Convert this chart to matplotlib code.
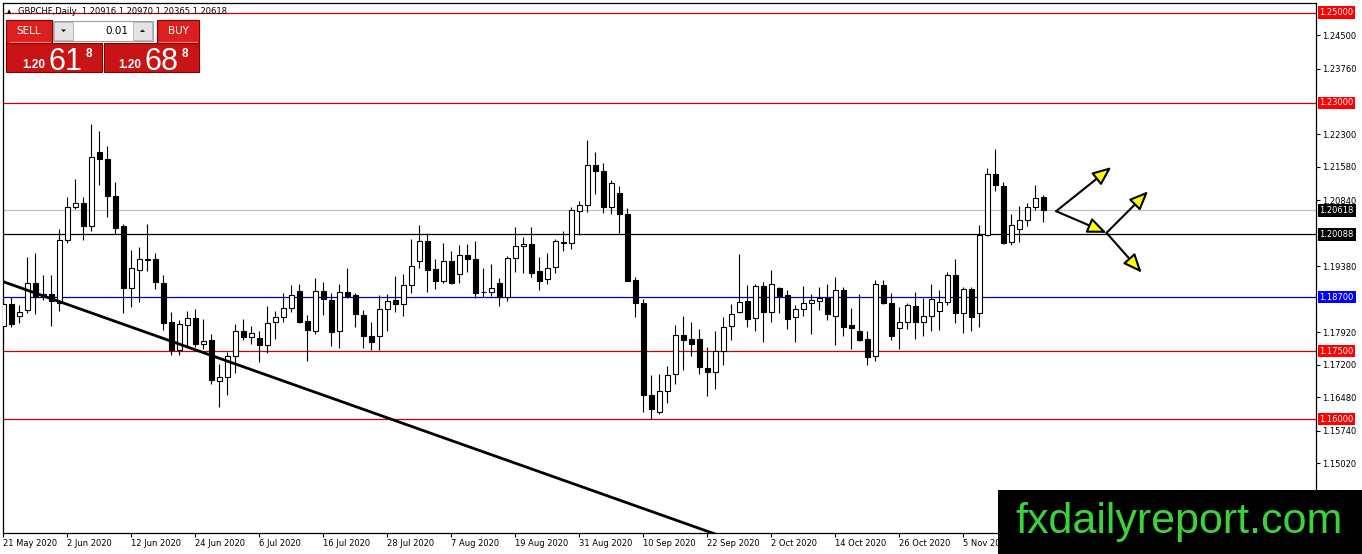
import numpy as np
import pandas as pd
import matplotlib
matplotlib.use("Agg")
import matplotlib.pyplot as plt
from matplotlib.patches import Rectangle, Polygon

# 1. Daily GBPCHF candles (21 May 2020 onwards, weekdays only)
opens = [
    1.18063, 1.18540, 1.18283, 1.18415, 1.19017, 1.18709, 1.18760, 1.18577, 1.19971, 1.20690,
    1.20786, 1.20272, 1.21916, 1.21755, 1.20947, 1.20265, 1.18892, 1.19310, 1.19553, 1.19538,
    1.19017, 1.18143, 1.17519, 1.18085, 1.18232, 1.17659, 1.17754, 1.16852, 1.16932, 1.17387,
    1.17953, 1.17813, 1.17791, 1.17644, 1.18143, 1.18254, 1.18452, 1.18833, 1.18173, 1.17938,
    1.18833, 1.18635, 1.17953, 1.18804, 1.18745, 1.18305, 1.17842, 1.17828, 1.18430, 1.18635,
    1.18540, 1.18958, 1.19494, 1.19934, 1.19318, 1.19061, 1.19494, 1.19201, 1.19626, 1.19553,
    1.18804, 1.18804, 1.19002, 1.18709, 1.19575, 1.19824, 1.19868, 1.19274, 1.19090, 1.19362,
    1.19920, 1.19898, 1.20595, 1.20741, 1.21630, 1.21498, 1.20690, 1.21006, 1.20543, 1.19076,
    1.18562, 1.16529, 1.16155, 1.16617, 1.16999, 1.17850, 1.17769, 1.17769, 1.17130, 1.17042,
    1.17512, 1.18070, 1.18364, 1.18621, 1.18232, 1.18944, 1.18364, 1.18892, 1.18745, 1.18254,
    1.18430, 1.18562, 1.18613, 1.18687, 1.18290, 1.18855, 1.18085, 1.17953, 1.17776, 1.17387,
    1.18965, 1.18562, 1.18011, 1.18143, 1.18510, 1.18158, 1.18290, 1.18400, 1.18599, 1.19186,
    1.18342, 1.18870, 1.18342, 1.20066, 1.21424, 1.21167, 1.19920, 1.20213, 1.20397, 1.20690,
    1.20916]
highs = [
    1.18709, 1.18709, 1.18525, 1.19589, 1.19685, 1.19186, 1.19186, 1.20199, 1.20925, 1.21314,
    1.20925, 1.22525, 1.22379, 1.22048, 1.21256, 1.20323, 1.19751, 1.19809, 1.20323, 1.19685,
    1.19186, 1.18378, 1.18195, 1.18400, 1.18437, 1.18217, 1.17879, 1.17226, 1.17483, 1.18099,
    1.18217, 1.18063, 1.17938, 1.18503, 1.18393, 1.18797, 1.18965, 1.18987, 1.18305, 1.19113,
    1.19024, 1.18797, 1.18987, 1.19347, 1.18782, 1.18415, 1.18151, 1.18745, 1.18767, 1.19171,
    1.19208, 1.19993, 1.20301, 1.20118, 1.19538, 1.19905, 1.19714, 1.19846, 1.19883, 1.19934,
    1.19333, 1.19428, 1.19113, 1.19611, 1.20250, 1.20030, 1.20250, 1.19589, 1.19685, 1.19993,
    1.20155, 1.20705, 1.20837, 1.22173, 1.21916, 1.21659, 1.21292, 1.21160, 1.20676, 1.19149,
    1.18650, 1.16984, 1.16999, 1.17167, 1.18085, 1.18290, 1.18143, 1.17989, 1.17593, 1.17953,
    1.18254, 1.18540, 1.19648, 1.18965, 1.18987, 1.19039, 1.19296, 1.18929, 1.18855, 1.18525,
    1.18944, 1.18767, 1.18929, 1.18987, 1.19134, 1.18929, 1.18452, 1.18767, 1.17953, 1.19076,
    1.19076, 1.18782, 1.18474, 1.18562, 1.18804, 1.18672, 1.18987, 1.18855, 1.19245, 1.19553,
    1.18929, 1.18929, 1.20301, 1.21557, 1.21975, 1.21241, 1.20543, 1.20727, 1.20786, 1.21182,
    1.20970]
lows = [
    1.17703, 1.18048, 1.18136, 1.18356, 1.18320, 1.18635, 1.18070, 1.18400, 1.19898, 1.20646,
    1.19971, 1.20162, 1.21190, 1.20470, 1.20088, 1.18342, 1.18489, 1.18599, 1.19281, 1.18870,
    1.17960, 1.17409, 1.17424, 1.17608, 1.17593, 1.17556, 1.16786, 1.16272, 1.16529, 1.17020,
    1.17740, 1.17666, 1.17262, 1.17460, 1.17776, 1.18158, 1.18364, 1.18121, 1.17277, 1.17886,
    1.18305, 1.17608, 1.17571, 1.18672, 1.18033, 1.17564, 1.17519, 1.17519, 1.17938, 1.18378,
    1.18290, 1.18797, 1.19333, 1.18819, 1.18870, 1.19017, 1.18990, 1.19017, 1.19259, 1.18672,
    1.18694, 1.18731, 1.18510, 1.18621, 1.19259, 1.19237, 1.19149, 1.18855, 1.18987, 1.19237,
    1.19721, 1.19773, 1.20081, 1.20580, 1.20984, 1.20558, 1.20529, 1.20118, 1.19050, 1.18268,
    1.16155, 1.16008, 1.16118, 1.16360, 1.16778, 1.17079, 1.17387, 1.16999, 1.16507, 1.16654,
    1.17204, 1.17740, 1.18342, 1.18048, 1.17953, 1.17703, 1.18143, 1.18342, 1.17989, 1.17703,
    1.18290, 1.17886, 1.18415, 1.18195, 1.17644, 1.17828, 1.17549, 1.17718, 1.17189, 1.17277,
    1.18540, 1.17740, 1.17556, 1.17997, 1.17776, 1.17842, 1.17938, 1.17975, 1.18525, 1.18136,
    1.17901, 1.17938, 1.18033, 1.20044, 1.21057, 1.19883, 1.19846, 1.19920, 1.20272, 1.20631,
    1.20365]
closes = [
    1.18540, 1.18099, 1.18378, 1.19017, 1.18709, 1.18760, 1.18613, 1.19971, 1.20690, 1.20779,
    1.20272, 1.21806, 1.21755, 1.20933, 1.20235, 1.18892, 1.19354, 1.19553, 1.19523, 1.19024,
    1.18136, 1.17519, 1.18099, 1.18232, 1.17659, 1.17732, 1.16859, 1.16925, 1.17402, 1.17953,
    1.17806, 1.17901, 1.17644, 1.18121, 1.18254, 1.18452, 1.18738, 1.18151, 1.17960, 1.18833,
    1.18650, 1.17916, 1.18804, 1.18731, 1.18320, 1.17828, 1.17696, 1.18430, 1.18621, 1.18540,
    1.18958, 1.19384, 1.19934, 1.19310, 1.19061, 1.19494, 1.19002, 1.19626, 1.19538, 1.18797,
    1.18812, 1.18892, 1.18709, 1.19575, 1.19824, 1.19868, 1.19237, 1.19061, 1.19333, 1.19934,
    1.19905, 1.20631, 1.20741, 1.21623, 1.21498, 1.20690, 1.21226, 1.20543, 1.19061, 1.18562,
    1.16529, 1.16228, 1.16617, 1.16969, 1.17850, 1.17754, 1.17659, 1.17152, 1.17042, 1.17497,
    1.18048, 1.18320, 1.18599, 1.18210, 1.18944, 1.18364, 1.18987, 1.18731, 1.18217, 1.18430,
    1.18562, 1.18635, 1.18687, 1.18320, 1.18855, 1.18048, 1.18026, 1.17740, 1.17373, 1.18987,
    1.18562, 1.17828, 1.18143, 1.18525, 1.18158, 1.18290, 1.18650, 1.18599, 1.19186, 1.18342,
    1.18870, 1.18254, 1.20081, 1.21424, 1.21182, 1.19898, 1.20301, 1.20397, 1.20690, 1.20889,
    1.20618]

dates = pd.bdate_range('2020-05-21', periods=len(opens))
date_labels = [f"{d.day} {d.strftime('%b %Y')}" for d in dates[::8]]

# price scale ticks shown on the right
price_ticks = [1.24500, 1.23760, 1.22300, 1.21580, 1.20840, 1.19380,
               1.17920, 1.17200, 1.16480, 1.15740, 1.15020]

# horizontal levels: (price, line colour, label colour)
levels = [(1.25000, '#d00000', '#ff0000'),
          (1.23000, '#d00000', '#ff0000'),
          (1.20618, '#c0c0c0', '#000000'),
          (1.20088, '#000000', '#000000'),
          (1.18700, '#0000c0', '#0000ff'),
          (1.17500, '#d00000', '#ff0000'),
          (1.16000, '#d00000', '#ff0000')]

# trend line anchors (bar index, price) and the drawn arrows
trend_x = [0, 33.34]
trend_y = [1.19040, 1.16947]
arrows = [((131.6, 1.20601), (138.5, 1.21578)),
          ((131.6, 1.20601), (137.9, 1.20122)),
          ((137.9, 1.20122), (143.1, 1.21042)),
          ((137.9, 1.20122), (142.3, 1.19240))]

W, H = 1362, 554
fig = plt.figure(figsize=(W / 100, H / 100), dpi=100)
fig.patch.set_facecolor('white')
left, right, top, bottom = 2.7, 1316, 2.5, 533
ax = fig.add_axes([left / W, (H - bottom) / H, (right - left) / W, (bottom - top) / H])

x = np.arange(len(opens))
o = np.array(opens); c = np.array(closes)

# 2. levels under the candles
for price, lc, _ in levels:
    ax.axhline(price, color=lc, lw=0.9, zorder=1)

# 3. candles
ax.vlines(x, lows, highs, color='black', lw=0.8, zorder=2)
fill = np.where(c >= o, 'white', 'black')
ax.bar(x, np.abs(c - o), bottom=np.minimum(o, c), width=0.62, color=fill,
       edgecolor='black', linewidth=0.8, zorder=3)

# 4. trend line, extended as a ray
slope = (trend_y[1] - trend_y[0]) / (trend_x[1] - trend_x[0])
tx = np.array([-2, 100])
ax.plot(tx, trend_y[0] + slope * (tx - trend_x[0]), color='black', lw=2.0, zorder=4)

# 5. arrows
for (x0, y0), (x1, y1) in arrows:
    ax.annotate('', xy=(x1, y1), xytext=(x0, y0),
                arrowprops=dict(arrowstyle='-|>,head_length=0.95,head_width=0.4',
                                mutation_scale=12, fc='#ffff00', ec='black', lw=1.5,
                                shrinkA=0, shrinkB=0), zorder=5)

ax.set_xlim(-0.08, (right - 3.3) / 8)
ax.set_ylim(1.25 - (bottom - 12.5) / 4517, 1.25 + (12.5 - top) / 4517)

ax.yaxis.tick_right()
ax.set_yticks(price_ticks)
ax.set_yticklabels([f"{p:.5f}" for p in price_ticks])
ax.set_xticks(x[::8])
ax.set_xticklabels(date_labels, ha='left')
ax.tick_params(axis='both', direction='out', length=3, width=0.8, labelsize=6, pad=1.5,
               colors='black')
for s in ax.spines.values():
    s.set_color('black'); s.set_linewidth(0.9)

# coloured price labels on the scale
for price, _, bc in levels:
    ax.annotate(f"{price:.5f}", xy=(1, price), xycoords=('axes fraction', 'data'),
                xytext=(2.5, 0), textcoords='offset points', va='center', ha='left',
                fontsize=6, color='white', annotation_clip=False,
                bbox=dict(boxstyle='square,pad=0.2', fc=bc, ec='none'))

# 6. overlay in pixels: header, trade panel, watermark
ov = fig.add_axes([0, 0, 1, 1])
ov.set_xlim(0, W); ov.set_ylim(H, 0); ov.axis('off')

ov.text(7, 11.5, '\u25b2', fontsize=4, va='center', ha='left')
ov.text(18, 11.5, 'GBPCHF,Daily  1.20916 1.20970 1.20365 1.20618', fontsize=6,
        va='center', ha='left')

red, dark = '#c81414', '#8a0000'
ov.add_patch(Rectangle((6, 43), 96, 29, fc=red, ec=dark, lw=0.8))
ov.add_patch(Rectangle((104, 43), 95, 29, fc=red, ec=dark, lw=0.8))
ov.add_patch(Rectangle((6, 20), 46, 23, fc='#dc2020', ec=dark, lw=0.8))
ov.add_patch(Rectangle((157, 20), 42, 23, fc='#dc2020', ec=dark, lw=0.8))
ov.plot([10, 50], [41.5, 41.5], color='#f08080', lw=0.8)
ov.plot([159, 197], [41.5, 41.5], color='#f08080', lw=0.8)
ov.text(29, 31, 'SELL', color='white', fontsize=7.5, ha='center', va='center')
ov.text(178, 31, 'BUY', color='white', fontsize=7.5, ha='center', va='center')

ov.add_patch(Rectangle((53, 21), 100, 20, fc='white', ec='#a0a0a0', lw=0.8))
ov.add_patch(Rectangle((54, 22), 19, 18, fc='#e4e4e4', ec='#b0b0b0', lw=0.6))
ov.add_patch(Rectangle((133, 22), 19, 18, fc='#e4e4e4', ec='#b0b0b0', lw=0.6))
ov.add_patch(Polygon([[61, 29.5], [66, 29.5], [63.5, 32]], closed=True, fc='black'))
ov.add_patch(Polygon([[140, 32], [145, 32], [142.5, 29.5]], closed=True, fc='black'))
ov.text(128, 31, '0.01', fontsize=7.5, ha='right', va='center')

for x0, big in [(22, '61'), (118, '68')]:
    ov.text(x0, 68, '1.20', color='white', fontsize=8.5, fontweight='bold',
            family='Liberation Sans', ha='left', va='baseline')
    ov.text(x0 + 26, 70, big, color='white', fontsize=22, family='Liberation Sans',
            ha='left', va='baseline')
    ov.text(x0 + 64, 57, '8', color='white', fontsize=8.5, fontweight='bold',
            family='Liberation Sans', ha='left', va='baseline')

ov.add_patch(Rectangle((998, 490), W - 998, H - 490, fc='black', ec='none'))
ov.text(1179, 533, 'fxdailyreport.com', color='#3ad33a', fontsize=31,
        family='Liberation Sans', ha='center', va='baseline')

fig.savefig('out.png', dpi=100)
